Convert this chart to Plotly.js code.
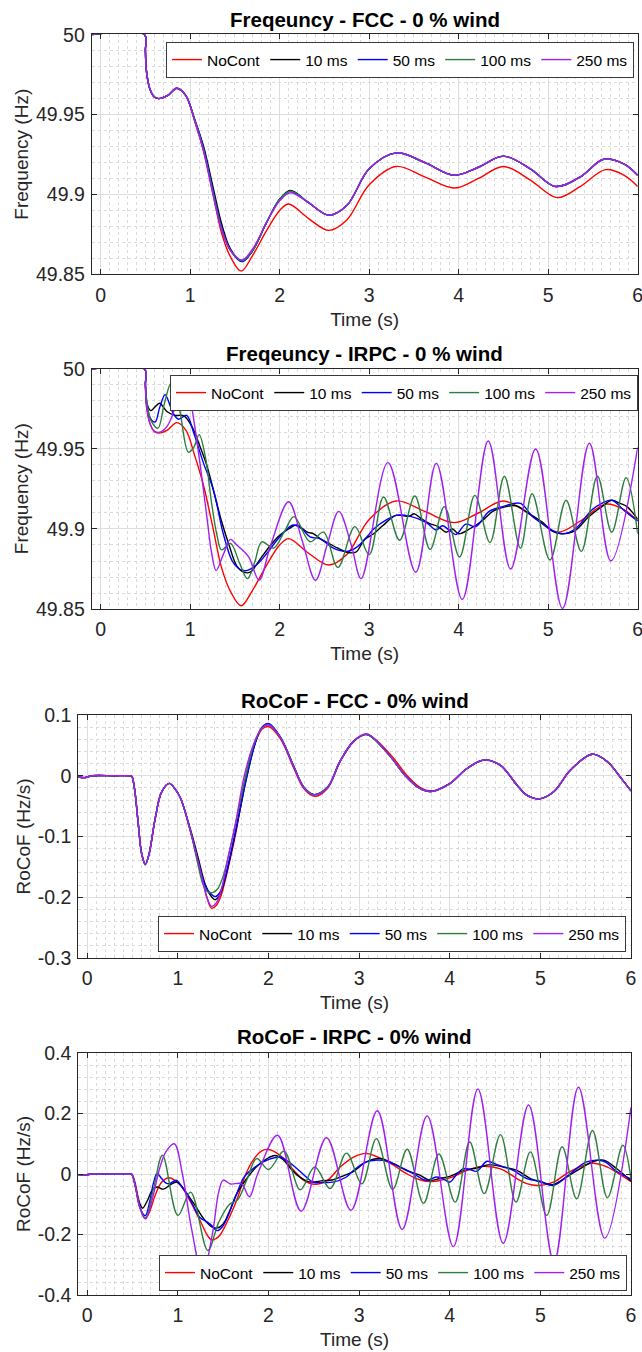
<!DOCTYPE html>
<html><head><meta charset="utf-8">
<script src="https://cdn.plot.ly/plotly-3.0.1.min.js"></script>
<style>html,body{margin:0;padding:0;background:#fff}#chart{width:642px;height:1352px}</style>
</head><body><div id="chart"></div>
<script>
// ---------------- DATA ----------------
const seriesNames = ['NoCont', '10 ms', '50 ms', '100 ms', '250 ms'];
const plotTitles = ['Freqeuncy - FCC - 0 % wind', 'Freqeuncy - IRPC - 0 % wind', 'RoCoF - FCC - 0% wind', 'RoCoF - IRPC - 0% wind'];
const xTitle = 'Time (s)';
const yTitles = ['Frequency (Hz)', 'Frequency (Hz)', 'RoCoF (Hz/s)', 'RoCoF (Hz/s)'];
const timeTicks = [0, 1, 2, 3, 4, 5, 6];
const freqTicks = [49.85, 49.9, 49.95, 50];
const freqTickText = ['49.85', '49.9', '49.95', '50'];
const rocofFccTicks = [-0.3, -0.2, -0.1, 0, 0.1];
const rocofFccTickText = ['-0.3', '-0.2', '-0.1', '0', '0.1'];
const rocofIrpcTicks = [-0.4, -0.2, 0, 0.2, 0.4];
const rocofIrpcTickText = ['-0.4', '-0.2', '0', '0.2', '0.4'];

// [time s, value] points
const freqNoCont = [[-0.1,50],[0.49,50],[0.5,49.99],[0.51,49.978],[0.55,49.966],[0.6,49.961],[0.65,49.96],[0.75,49.962],[0.85,49.9665],[0.95,49.962],[1.05,49.946],[1.15,49.927],[1.25,49.902],[1.35,49.876],[1.45,49.861],[1.57,49.852],[1.7,49.862],[1.85,49.877],[2.0,49.89],[2.1,49.894],[2.32,49.885],[2.55,49.8775],[2.75,49.884],[3.0,49.906],[3.3,49.9175],[3.62,49.911],[3.95,49.904],[4.22,49.91],[4.5,49.9175],[4.8,49.909],[5.1,49.898],[5.36,49.905],[5.64,49.9155],[5.85,49.912],[6.0,49.905]];

const freqFcc10 = [[-0.1,50],[0.49,50],[0.5,49.99],[0.51,49.978],[0.55,49.966],[0.6,49.961],[0.65,49.96],[0.75,49.962],[0.85,49.9665],[0.95,49.962],[1.05,49.947],[1.15,49.93],[1.25,49.906],[1.35,49.882],[1.45,49.866],[1.58,49.858],[1.7,49.865],[1.85,49.882],[2.0,49.897],[2.12,49.9025],[2.32,49.895],[2.55,49.887],[2.75,49.893],[3.0,49.916],[3.3,49.926],[3.62,49.92],[3.95,49.912],[4.22,49.917],[4.5,49.924],[4.8,49.916],[5.08,49.905],[5.36,49.911],[5.62,49.922],[5.85,49.919],[6.0,49.912]];
const freqFcc50 = [[-0.1,50],[0.49,50],[0.5,49.99],[0.51,49.978],[0.55,49.966],[0.6,49.961],[0.65,49.96],[0.75,49.962],[0.85,49.9665],[0.95,49.962],[1.05,49.947],[1.15,49.929],[1.25,49.904],[1.35,49.88],[1.45,49.865],[1.58,49.858],[1.7,49.865],[1.85,49.882],[2.0,49.897],[2.12,49.902],[2.32,49.895],[2.55,49.887],[2.75,49.893],[3.0,49.916],[3.3,49.926],[3.62,49.92],[3.95,49.912],[4.22,49.917],[4.5,49.924],[4.8,49.916],[5.08,49.905],[5.36,49.911],[5.62,49.922],[5.85,49.919],[6.0,49.912]];
const freqFcc100 = [[-0.1,50],[0.49,50],[0.5,49.99],[0.51,49.978],[0.55,49.966],[0.6,49.961],[0.65,49.96],[0.75,49.962],[0.85,49.9665],[0.95,49.962],[1.05,49.947],[1.15,49.928],[1.25,49.903],[1.35,49.879],[1.45,49.865],[1.58,49.8585],[1.7,49.865],[1.85,49.882],[2.0,49.897],[2.12,49.902],[2.32,49.895],[2.55,49.887],[2.75,49.893],[3.0,49.916],[3.3,49.926],[3.62,49.92],[3.95,49.912],[4.22,49.917],[4.5,49.924],[4.8,49.916],[5.08,49.905],[5.36,49.911],[5.62,49.922],[5.85,49.919],[6.0,49.912]];
const freqFcc250 = [[-0.1,50],[0.49,50],[0.5,49.99],[0.51,49.978],[0.55,49.966],[0.6,49.961],[0.65,49.96],[0.75,49.962],[0.85,49.9665],[0.95,49.962],[1.05,49.946],[1.15,49.927],[1.25,49.901],[1.35,49.878],[1.45,49.865],[1.58,49.859],[1.7,49.866],[1.85,49.882],[2.0,49.896],[2.12,49.901],[2.32,49.895],[2.55,49.887],[2.75,49.893],[3.0,49.916],[3.3,49.926],[3.62,49.92],[3.95,49.912],[4.22,49.917],[4.5,49.924],[4.8,49.916],[5.08,49.905],[5.36,49.911],[5.62,49.922],[5.85,49.919],[6.0,49.912]];

const freqIrpc10 = [[-0.1,50],[0.49,50],[0.5,49.99],[0.52,49.978],[0.56,49.974],[0.62,49.977],[0.66,49.9786],[0.74,49.9734],[0.83,49.971],[0.93,49.9707],[1.02,49.964],[1.11,49.9515],[1.19,49.939],[1.27,49.922],[1.35,49.905],[1.44,49.889],[1.52,49.877],[1.6,49.873],[1.67,49.873],[1.78,49.881],[1.9,49.89],[2.0,49.896],[2.1,49.9],[2.19,49.9025],[2.31,49.898],[2.38,49.897],[2.45,49.894],[2.55,49.891],[2.65,49.888],[2.75,49.8855],[2.85,49.8855],[2.95,49.8935],[3.05,49.897],[3.15,49.902],[3.3,49.9085],[3.45,49.908],[3.5,49.9095],[3.57,49.907],[3.67,49.9035],[3.77,49.9015],[3.86,49.898],[3.93,49.9],[4.0,49.897],[4.12,49.9],[4.27,49.9055],[4.38,49.911],[4.53,49.914],[4.64,49.9145],[4.79,49.9095],[4.93,49.9045],[5.05,49.8985],[5.15,49.897],[5.3,49.899],[5.45,49.9075],[5.6,49.914],[5.71,49.918],[5.8,49.916],[5.88,49.914],[6.0,49.906]];
const freqIrpc50 = [[-0.1,50],[0.49,50],[0.5,49.99],[0.52,49.976],[0.57,49.968],[0.61,49.967],[0.66,49.976],[0.72,49.984],[0.77,49.978],[0.81,49.9723],[0.87,49.9686],[0.96,49.971],[1.04,49.96],[1.15,49.941],[1.26,49.9244],[1.37,49.897],[1.47,49.88],[1.55,49.875],[1.63,49.874],[1.75,49.878],[1.86,49.885],[2.0,49.895],[2.15,49.9025],[2.25,49.9],[2.34,49.895],[2.45,49.894],[2.6,49.888],[2.75,49.886],[2.87,49.889],[2.98,49.8955],[3.05,49.9],[3.2,49.906],[3.3,49.9085],[3.45,49.908],[3.64,49.904],[3.75,49.8994],[3.82,49.902],[3.9,49.899],[3.97,49.8965],[4.08,49.903],[4.19,49.9015],[4.34,49.911],[4.49,49.914],[4.69,49.916],[4.82,49.908],[4.93,49.9035],[5.05,49.899],[5.16,49.897],[5.3,49.9],[5.49,49.912],[5.6,49.916],[5.71,49.918],[5.86,49.911],[6.0,49.905]];
const freqIrpc100 = [[-0.1,50],[0.49,50],[0.5,49.99],[0.52,49.978],[0.56,49.968],[0.64,49.963],[0.71,49.978],[0.79,49.9915],[0.88,49.975],[0.98,49.948],[1.04,49.951],[1.1,49.959],[1.17,49.945],[1.24,49.916],[1.3,49.896],[1.35,49.887],[1.45,49.891],[1.55,49.879],[1.64,49.869],[1.72,49.879],[1.8,49.892],[1.93,49.888],[2.05,49.898],[2.16,49.9077],[2.34,49.892],[2.49,49.898],[2.65,49.876],[2.84,49.9015],[3.0,49.884],[3.16,49.92],[3.34,49.893],[3.51,49.9206],[3.68,49.8873],[3.84,49.914],[4.01,49.8825],[4.18,49.921],[4.35,49.8915],[4.51,49.933],[4.69,49.888],[4.82,49.922],[5.02,49.8806],[5.2,49.918],[5.37,49.886],[5.55,49.933],[5.71,49.898],[5.87,49.932],[6.0,49.897]];
const freqIrpc250 = [[-0.1,50],[0.49,50],[0.5,49.99],[0.51,49.978],[0.55,49.966],[0.6,49.961],[0.66,49.9605],[0.74,49.964],[0.81,49.9723],[0.87,49.985],[0.93,49.993],[0.98,49.988],[1.03,49.972],[1.11,49.941],[1.19,49.906],[1.24,49.885],[1.29,49.874],[1.37,49.884],[1.45,49.8935],[1.52,49.89],[1.6,49.886],[1.66,49.882],[1.77,49.868],[1.9,49.89],[2.1,49.917],[2.25,49.893],[2.4,49.868],[2.53,49.89],[2.66,49.911],[2.8,49.89],[2.91,49.869],[3.21,49.9415],[3.52,49.873],[3.75,49.941],[4.04,49.856],[4.33,49.955],[4.58,49.875],[4.86,49.95],[5.16,49.8504],[5.46,49.9536],[5.7,49.88],[6.0,49.951]];

const rocofNoCont = [[-0.1,-0.002],[-0.02,-0.003],[0.05,0],[0.3,0],[0.46,0],[0.49,-0.001],[0.52,-0.02],[0.56,-0.075],[0.6,-0.128],[0.64,-0.146],[0.68,-0.13],[0.75,-0.07],[0.82,-0.027],[0.905,-0.0125],[0.97,-0.022],[1.03,-0.037],[1.14,-0.092],[1.25,-0.157],[1.32,-0.2],[1.37,-0.218],[1.42,-0.214],[1.47,-0.2],[1.58,-0.135],[1.65,-0.086],[1.75,0.0],[1.84,0.05],[1.93,0.077],[2.0,0.081],[2.13,0.061],[2.28,0.012],[2.39,-0.021],[2.51,-0.034],[2.65,-0.021],[2.79,0.023],[2.94,0.056],[3.085,0.068],[3.34,0.036],[3.53,0.0],[3.67,-0.019],[3.8,-0.025],[4.0,-0.013],[4.19,0.012],[4.38,0.0257],[4.56,0.017],[4.74,-0.015],[4.85,-0.032],[4.99,-0.038],[5.15,-0.026],[5.33,0.009],[5.57,0.0355],[5.74,0.023],[5.89,-0.004],[6.0,-0.025]];

const rocofFcc10 = [[-0.1,-0.002],[-0.02,-0.003],[0.05,0],[0.3,0],[0.46,0],[0.49,-0.001],[0.52,-0.02],[0.56,-0.075],[0.6,-0.128],[0.64,-0.146],[0.68,-0.13],[0.75,-0.07],[0.82,-0.027],[0.905,-0.0125],[0.97,-0.022],[1.03,-0.037],[1.14,-0.089],[1.22,-0.133],[1.3,-0.178],[1.36,-0.197],[1.41,-0.204],[1.46,-0.197],[1.52,-0.17],[1.6,-0.118],[1.68,-0.06],[1.76,-0.002],[1.85,0.052],[1.93,0.08],[2.0,0.0858],[2.13,0.064],[2.28,0.015],[2.39,-0.019],[2.5,-0.031],[2.65,-0.019],[2.79,0.024],[2.94,0.057],[3.085,0.068],[3.32,0.036],[3.51,0.0],[3.66,-0.02],[3.79,-0.026],[4.0,-0.013],[4.19,0.012],[4.38,0.026],[4.56,0.017],[4.74,-0.015],[4.85,-0.032],[4.99,-0.038],[5.15,-0.026],[5.33,0.009],[5.57,0.0355],[5.74,0.023],[5.89,-0.004],[6.0,-0.025]];
const rocofFcc50 = [[-0.1,-0.002],[-0.02,-0.003],[0.05,0],[0.3,0],[0.46,0],[0.49,-0.001],[0.52,-0.02],[0.56,-0.075],[0.6,-0.128],[0.64,-0.146],[0.68,-0.13],[0.75,-0.07],[0.82,-0.027],[0.905,-0.0125],[0.97,-0.022],[1.03,-0.037],[1.14,-0.092],[1.22,-0.14],[1.3,-0.18],[1.36,-0.194],[1.41,-0.199],[1.46,-0.193],[1.52,-0.168],[1.6,-0.117],[1.68,-0.06],[1.76,-0.002],[1.85,0.052],[1.93,0.08],[2.0,0.0855],[2.13,0.064],[2.28,0.015],[2.39,-0.019],[2.5,-0.031],[2.65,-0.019],[2.79,0.024],[2.94,0.057],[3.085,0.068],[3.32,0.036],[3.51,0.0],[3.66,-0.02],[3.79,-0.026],[4.0,-0.013],[4.19,0.012],[4.38,0.026],[4.56,0.017],[4.74,-0.015],[4.85,-0.032],[4.99,-0.038],[5.15,-0.026],[5.33,0.009],[5.57,0.0355],[5.74,0.023],[5.89,-0.004],[6.0,-0.025]];
const rocofFcc100 = [[-0.1,-0.002],[-0.02,-0.003],[0.05,0],[0.3,0],[0.46,0],[0.49,-0.001],[0.52,-0.02],[0.56,-0.075],[0.6,-0.128],[0.64,-0.146],[0.68,-0.13],[0.75,-0.07],[0.82,-0.027],[0.905,-0.0125],[0.97,-0.022],[1.03,-0.037],[1.14,-0.092],[1.22,-0.145],[1.28,-0.18],[1.33,-0.191],[1.39,-0.192],[1.44,-0.186],[1.5,-0.165],[1.58,-0.118],[1.66,-0.062],[1.75,0.0],[1.84,0.052],[1.93,0.079],[2.0,0.084],[2.13,0.063],[2.28,0.015],[2.39,-0.019],[2.5,-0.031],[2.65,-0.019],[2.79,0.024],[2.94,0.057],[3.085,0.068],[3.32,0.036],[3.51,0.0],[3.66,-0.02],[3.79,-0.026],[4.0,-0.013],[4.19,0.012],[4.38,0.026],[4.56,0.017],[4.74,-0.015],[4.85,-0.032],[4.99,-0.038],[5.15,-0.026],[5.33,0.009],[5.57,0.0355],[5.74,0.023],[5.89,-0.004],[6.0,-0.025]];
const rocofFcc250 = [[-0.1,-0.002],[-0.02,-0.003],[0.05,0],[0.3,0],[0.46,0],[0.49,-0.001],[0.52,-0.02],[0.56,-0.075],[0.6,-0.128],[0.64,-0.146],[0.68,-0.13],[0.75,-0.07],[0.82,-0.027],[0.905,-0.0125],[0.97,-0.022],[1.03,-0.037],[1.14,-0.092],[1.25,-0.157],[1.32,-0.2],[1.37,-0.215],[1.42,-0.21],[1.47,-0.193],[1.56,-0.13],[1.64,-0.075],[1.73,-0.002],[1.83,0.05],[1.92,0.077],[2.0,0.084],[2.13,0.063],[2.28,0.014],[2.39,-0.02],[2.5,-0.032],[2.65,-0.02],[2.79,0.024],[2.94,0.057],[3.085,0.069],[3.32,0.036],[3.51,0.0],[3.66,-0.02],[3.79,-0.026],[4.0,-0.013],[4.19,0.012],[4.38,0.026],[4.56,0.017],[4.74,-0.015],[4.85,-0.032],[4.99,-0.038],[5.15,-0.026],[5.33,0.009],[5.57,0.0355],[5.74,0.023],[5.89,-0.004],[6.0,-0.025]];

const rocofIrpc10 = [[-0.1,-0.002],[-0.02,-0.003],[0.05,0],[0.3,0],[0.46,0],[0.49,-0.001],[0.53,-0.04],[0.57,-0.09],[0.61,-0.113],[0.66,-0.09],[0.72,-0.052],[0.77,-0.043],[0.84,-0.05],[0.92,-0.035],[0.985,-0.0265],[1.04,-0.04],[1.1,-0.065],[1.19,-0.104],[1.28,-0.146],[1.37,-0.174],[1.43,-0.179],[1.5,-0.165],[1.56,-0.13],[1.65,-0.065],[1.76,-0.015],[1.87,0.025],[1.98,0.05],[2.07,0.061],[2.16,0.048],[2.24,0.02],[2.31,-0.002],[2.4,-0.02],[2.47,-0.027],[2.6,-0.022],[2.7,-0.02],[2.79,-0.01],[2.93,0.007],[3.08,0.04],[3.23,0.051],[3.38,0.034],[3.52,0.012],[3.67,-0.004],[3.78,-0.021],[3.89,-0.015],[4.0,-0.008],[4.15,0.012],[4.3,0.02],[4.44,0.031],[4.59,0.023],[4.74,0.012],[4.89,-0.015],[5.03,-0.029],[5.14,-0.035],[5.29,-0.01],[5.44,0.018],[5.59,0.042],[5.7,0.046],[5.84,0.018],[6.0,-0.023]];
const rocofIrpc50 = [[-0.1,-0.002],[-0.02,-0.003],[0.05,0],[0.3,0],[0.46,0],[0.49,-0.001],[0.53,-0.04],[0.58,-0.11],[0.64,-0.138],[0.69,-0.09],[0.73,-0.03],[0.77,0.002],[0.82,-0.015],[0.87,-0.03],[0.905,-0.032],[0.985,-0.021],[1.05,-0.045],[1.1,-0.065],[1.17,-0.105],[1.24,-0.143],[1.33,-0.16],[1.38,-0.172],[1.43,-0.187],[1.49,-0.175],[1.54,-0.148],[1.65,-0.065],[1.73,-0.01],[1.83,0.018],[1.93,0.038],[2.02,0.05],[2.13,0.056],[2.2,0.045],[2.27,0.029],[2.38,0.0],[2.49,-0.027],[2.6,-0.028],[2.71,-0.027],[2.86,-0.01],[2.93,0.01],[3.08,0.04],[3.27,0.045],[3.41,0.029],[3.6,0.001],[3.74,-0.021],[3.85,-0.01],[3.92,-0.015],[4.0,-0.027],[4.08,0.0],[4.15,0.018],[4.22,0.015],[4.3,0.009],[4.41,0.042],[4.52,0.031],[4.7,0.012],[4.85,-0.015],[5.0,-0.024],[5.14,-0.038],[5.33,0.001],[5.51,0.04],[5.7,0.042],[5.84,0.009],[6.0,-0.017]];
const rocofIrpc100 = [[-0.1,-0.002],[-0.02,-0.003],[0.05,0],[0.3,0],[0.46,0],[0.49,-0.001],[0.53,-0.04],[0.58,-0.11],[0.64,-0.148],[0.73,-0.05],[0.83,0.062],[1.0,-0.137],[1.14,-0.06],[1.33,-0.253],[1.45,-0.16],[1.57,-0.1],[1.66,-0.085],[1.76,-0.02],[1.87,0.051],[2.0,0.015],[2.17,0.075],[2.35,-0.052],[2.51,0.023],[2.68,-0.048],[2.86,0.069],[3.03,-0.032],[3.19,0.117],[3.37,-0.051],[3.53,0.082],[3.71,-0.097],[3.88,0.066],[4.06,-0.093],[4.22,0.106],[4.38,-0.065],[4.56,0.13],[4.73,-0.093],[4.89,0.073],[5.07,-0.137],[5.24,0.09],[5.4,-0.082],[5.575,0.144],[5.74,-0.078],[5.91,0.095],[6.0,-0.015]];
const rocofIrpc250 = [[-0.1,-0.002],[-0.02,-0.003],[0.05,0],[0.3,0],[0.46,0],[0.49,-0.001],[0.53,-0.04],[0.58,-0.11],[0.645,-0.148],[0.72,-0.08],[0.8,0.02],[0.87,0.075],[0.96,0.1],[1.05,0.0],[1.15,-0.18],[1.27,-0.33],[1.38,-0.2],[1.45,-0.06],[1.5,-0.02],[1.58,-0.033],[1.7,-0.032],[1.79,-0.075],[1.88,0.0],[2.1,0.128],[2.36,-0.123],[2.64,0.12],[2.91,-0.12],[3.2,0.209],[3.475,-0.183],[3.75,0.192],[4.04,-0.24],[4.31,0.281],[4.59,-0.229],[4.87,0.228],[5.15,-0.29],[5.42,0.287],[5.71,-0.212],[6.0,0.22]];

const panelSeries = [
  [freqNoCont, freqFcc10, freqFcc50, freqFcc100, freqFcc250],
  [freqNoCont, freqIrpc10, freqIrpc50, freqIrpc100, freqIrpc250],
  [rocofNoCont, rocofFcc10, rocofFcc50, rocofFcc100, rocofFcc250],
  [rocofNoCont, rocofIrpc10, rocofIrpc50, rocofIrpc100, rocofIrpc250]
];

// ---------------- STYLE / LAYOUT ----------------
const W = 642, H = 1352;
const colors = ['#FF0000', '#000000', '#0000FF', '#2E7D3E', '#A020F0'];
const FONT = '"Liberation Sans", Arial, Helvetica, sans-serif';
const AX = '#262626';
const py = p => 1 - p / H;

const xDoms = [[91.7 / W, 637.7 / W], [91.7 / W, 637.7 / W], [78.2 / W, 631 / W], [78.2 / W, 631 / W]];
const yDoms = [[py(274.3), py(34.2)], [py(609), py(368.5)], [py(958), py(715)], [py(1295), py(1053)]];
const yRanges = [[49.85, 50.0003], [49.85, 50.0003], [-0.3, 0.1], [-0.4, 0.4]];
const yTickVals = [freqTicks, freqTicks, rocofFccTicks, rocofIrpcTicks];
const yTickText = [freqTickText, freqTickText, rocofFccTickText, rocofIrpcTickText];
const yMinor = [0.01, 0.01, 0.02, 0.04];
const titleY = [19, 353, 700, 1036];
const legendPos = [
  {x: 634 / W, y: py(42), yanchor: 'top'},
  {x: 638 / W, y: py(375), yanchor: 'top'},
  {x: 626 / W, y: py(952), yanchor: 'bottom'},
  {x: 627 / W, y: py(1291), yanchor: 'bottom'}
];

const traces = [];
const layout = {
  width: W, height: H,
  margin: {l: 0, r: 0, t: 0, b: 0},
  paper_bgcolor: '#fff', plot_bgcolor: '#fff',
  font: {family: FONT, color: AX},
  annotations: []
};

panelSeries.forEach((group, p) => {
  const sfx = p === 0 ? '' : String(p + 1);
  const legName = 'legend' + sfx;
  group.forEach((pts, s) => {
    traces.push({
      type: 'scatter', mode: 'lines',
      x: pts.map(d => d[0]), y: pts.map(d => d[1]),
      name: seriesNames[s],
      xaxis: 'x' + sfx, yaxis: 'y' + sfx,
      legend: legName,
      line: {color: colors[s], width: 1.4, shape: 'spline', smoothing: 1},
      hoverinfo: 'skip'
    });
  });
  layout['xaxis' + sfx] = {
    domain: xDoms[p], anchor: 'y' + sfx, range: [-0.1, 6],
    tickmode: 'array', tickvals: timeTicks,
    ticks: 'inside', ticklen: 5, tickcolor: AX, tickwidth: 1,
    showline: true, linecolor: AX, linewidth: 1, mirror: 'ticks',
    showgrid: true, gridcolor: '#DEDEDE', gridwidth: 1, zeroline: false,
    minor: {tickmode: 'linear', tick0: 0, dtick: 0.1, showgrid: true, gridcolor: '#DADADA', griddash: 'dot', gridwidth: 1, ticks: ''},
    tickfont: {size: 19.5, color: AX, family: FONT},
    ticklabelstandoff: 3, ticklabeloverflow: 'allow',
    title: {text: xTitle, font: {size: 19, color: AX, family: FONT}, standoff: 7}
  };
  layout['yaxis' + sfx] = {
    domain: yDoms[p], anchor: 'x' + sfx, range: yRanges[p],
    tickmode: 'array', tickvals: yTickVals[p], ticktext: yTickText[p],
    ticks: 'inside', ticklen: 5, tickcolor: AX, tickwidth: 1,
    showline: true, linecolor: AX, linewidth: 1, mirror: 'ticks',
    showgrid: true, gridcolor: '#DEDEDE', gridwidth: 1, zeroline: false,
    minor: {tickmode: 'linear', tick0: 0, dtick: yMinor[p], showgrid: true, gridcolor: '#DADADA', griddash: 'dot', gridwidth: 1, ticks: ''},
    tickfont: {size: 19.5, color: AX, family: FONT},
    ticklabelstandoff: 2, ticklabeloverflow: 'allow',
    title: {text: yTitles[p], font: {size: 19, color: AX, family: FONT}, standoff: 2}
  };
  layout[legName] = {
    x: legendPos[p].x, xanchor: 'right', y: legendPos[p].y, yanchor: legendPos[p].yanchor,
    orientation: 'h', bgcolor: '#fff', bordercolor: '#3a3a3a', borderwidth: 1,
    font: {size: 15.5, color: '#000', family: FONT}, itemclick: false, itemdoubleclick: false
  };
  layout.annotations.push({
    text: plotTitles[p], xref: 'paper', yref: 'paper',
    x: (xDoms[p][0] + xDoms[p][1]) / 2, y: py(titleY[p]), xanchor: 'center', yanchor: 'middle',
    showarrow: false, font: {size: 20.5, color: '#000', family: FONT, weight: 'bold'}
  });
});

Plotly.newPlot('chart', traces, layout, {displayModeBar: false, staticPlot: true});
</script></body></html>
